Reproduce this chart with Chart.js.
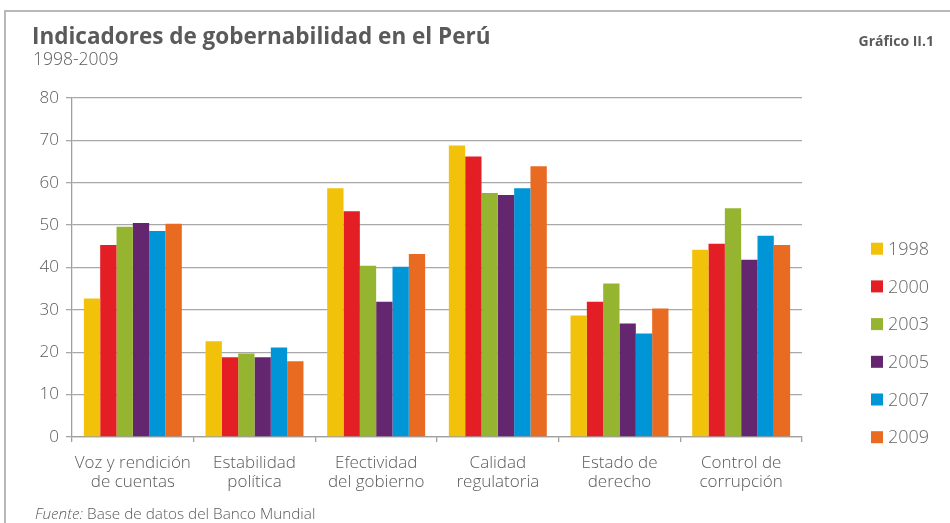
<!DOCTYPE html>
<html>
<head>
<meta charset="utf-8">
<script src="https://cdn.jsdelivr.net/npm/chart.js@4.4.1/dist/chart.umd.min.js"></script>
<style>
  html, body { margin: 0; padding: 0; background: #fff; }
  #wrap { position: relative; width: 950px; height: 523px; }
  canvas { display: block; }
</style>
</head>
<body>
<div id="wrap"><canvas id="c" width="950" height="523"></canvas></div>
<script>
const categories = [
  ["Voz y rendición", "de cuentas"],
  ["Estabilidad", "política"],
  ["Efectividad", "del gobierno"],
  ["Calidad", "regulatoria"],
  ["Estado de", "derecho"],
  ["Control de", "corrupción"]
];
const years = ["1998", "2000", "2003", "2005", "2007", "2009"];
const v1998 = [32.7, 22.6, 58.7, 68.8, 28.7, 44.2];
const v2000 = [45.3, 18.8, 53.3, 66.2, 31.9, 45.6];
const v2003 = [49.6, 19.7, 40.4, 57.6, 36.2, 54.0];
const v2005 = [50.5, 18.8, 31.9, 57.1, 26.8, 41.8];
const v2007 = [48.6, 21.1, 40.2, 58.7, 24.4, 47.5];
const v2009 = [50.3, 17.9, 43.2, 63.9, 30.3, 45.3];
const yTicks = [0, 10, 20, 30, 40, 50, 60, 70, 80];

const seriesValues = [v1998, v2000, v2003, v2005, v2007, v2009];
const colors = ["#F2C10A", "#E31E24", "#95B531", "#64266F", "#0095D6", "#E86B21"];
const FONT = "'Open Sans', 'Noto Sans', sans-serif";
const TXT = "#5a5a5a";

const decor = {
  id: "decor",
  afterDraw(chart) {
    const ctx = chart.ctx;
    ctx.save();
    // frame
    ctx.strokeStyle = "#b8b8b8";
    ctx.lineWidth = 2;
    ctx.beginPath();
    ctx.moveTo(5, 523);
    ctx.lineTo(5, 11);
    ctx.lineTo(950, 11);
    ctx.stroke();
    // title
    ctx.fillStyle = TXT;
    ctx.textBaseline = "alphabetic";
    ctx.textAlign = "left";
    ctx.font = "bold 22.5px " + FONT;
    ctx.fillText("Indicadores de gobernabilidad en el Perú", 32, 44);
    ctx.font = "300 17.5px " + FONT;
    ctx.fillText("1998-2009", 33, 65);
    ctx.textAlign = "right";
    ctx.font = "bold 14px " + FONT;
    ctx.fillText("Gráfico II.1", 934, 46);
    // footer
    ctx.textAlign = "left";
    ctx.font = "italic 300 15.3px " + FONT;
    ctx.fillText("Fuente:", 35, 519);
    const w = ctx.measureText("Fuente: ").width;
    ctx.font = "300 15.3px " + FONT;
    ctx.fillText("Base de datos del Banco Mundial", 35 + w, 519);
    // legend
    ctx.textBaseline = "middle";
    ctx.font = "300 18px " + FONT;
    chart.data.datasets.forEach((ds, i) => {
      const cy = 248.7 + i * 37.7;
      ctx.fillStyle = ds.backgroundColor;
      ctx.fillRect(871, cy - 6, 12, 12);
      ctx.fillStyle = "#666";
      ctx.fillText(ds.label, 888, cy + 1);
    });
    ctx.restore();
  }
};

new Chart(document.getElementById("c"), {
  type: "bar",
  data: {
    labels: categories,
    datasets: years.map((y, i) => ({
      label: y,
      data: seriesValues[i],
      backgroundColor: colors[i],
      borderWidth: 0,
      barPercentage: 1.0,
      categoryPercentage: 0.805
    }))
  },
  options: {
    responsive: false,
    animation: false,
    devicePixelRatio: 1,
    layout: { padding: { top: 98, right: 148, left: 0, bottom: 0 } },
    plugins: { legend: { display: false }, tooltip: { enabled: false } },
    scales: {
      x: {
        afterFit(s) { s.height = 86; },
        grid: { drawOnChartArea: false, drawTicks: true, tickLength: 5, color: "#a0a0a0", lineWidth: 1.3, offset: true },
        border: { display: true, color: "#a0a0a0", width: 1.3 },
        ticks: { color: TXT, font: { family: FONT, size: 17, weight: 300, lineHeight: 1.1 }, padding: 12, maxRotation: 0, autoSkip: false }
      },
      y: {
        min: 0, max: 80,
        afterFit(s) { s.width = 72; },
        afterBuildTicks(s) { s.ticks = yTicks.map(v => ({ value: v })); },
        grid: { color: "#a8a8a8", lineWidth: 1.3, tickLength: 6 },
        border: { display: true, color: "#a0a0a0", width: 1.3 },
        ticks: { color: TXT, font: { family: FONT, size: 17, weight: 300 }, padding: 7 }
      }
    }
  },
  plugins: [decor]
});
</script>
</body>
</html>
